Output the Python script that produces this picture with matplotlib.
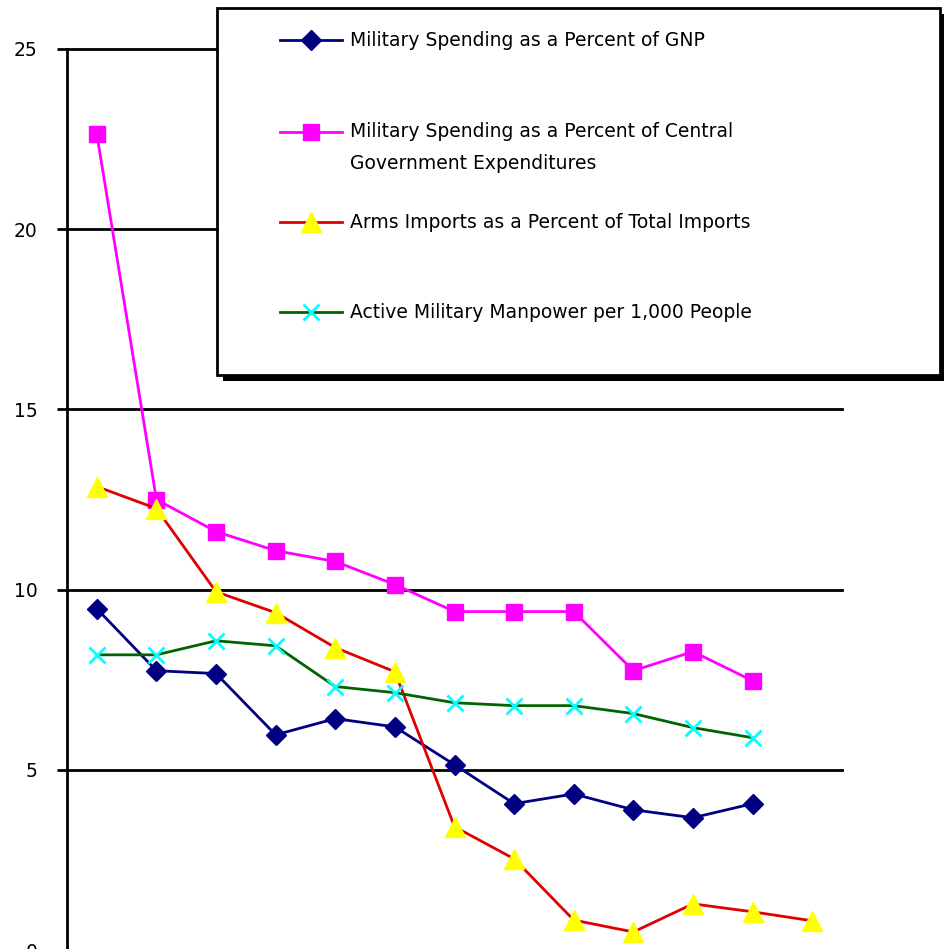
import numpy as np
import matplotlib.pyplot as plt
from matplotlib.lines import Line2D
from matplotlib.patches import Rectangle

# values (13 periods, x-axis labels cut off)
periods = np.arange(1, 14)
gnp_pct = [9.47, 7.75, 7.67, 5.97, 6.42, 6.19, 5.14, 4.06, 4.33, 3.89, 3.67, 4.06]
cge_pct = [22.64, 12.5, 11.61, 11.08, 10.78, 10.14, 9.39, 9.39, 9.39, 7.75, 8.28, 7.47]
arms_pct = [12.86, 12.25, 9.94, 9.36, 8.39, 7.72, 3.42, 2.53, 0.83, 0.5, 1.28, 1.06, 0.81]
manpower = [8.19, 8.19, 8.58, 8.44, 7.31, 7.14, 6.86, 6.78, 6.78, 6.56, 6.17, 5.89]

labels = ["Military Spending as a Percent of GNP",
          "Military Spending as a Percent of Central\nGovernment Expenditures",
          "Arms Imports as a Percent of Total Imports",
          "Active Military Manpower per 1,000 People"]

W, H = 944, 949
fig = plt.figure(figsize=(W / 100, H / 100), dpi=100)
ax = fig.add_axes([67 / W, -1 / H, (842 - 67) / W, 901 / H])

styles = [
    dict(color="#000080", marker="D", ms=10, mfc="#000080", mec="#000080"),
    dict(color="#ff00ff", marker="s", ms=11, mfc="#ff00ff", mec="#ff00ff"),
    dict(color="#e00000", marker="^", ms=14, mfc="#ffff00", mec="#ffff00"),
    dict(color="#006400", marker="x", ms=12, mfc="#00ffff", mec="#00ffff", mew=2),
]
series = [gnp_pct, cge_pct, arms_pct, manpower]
for vals, st in zip(series, styles):
    ax.plot(periods[:len(vals)], vals, lw=2, zorder=3, **st)

ax.set_xlim(0.5, 13.5)
ax.set_ylim(0, 25)
ax.set_yticks([0, 5, 10, 15, 20, 25])
ax.set_xticks([])
ax.grid(axis="y", color="black", lw=2)
for gl in ax.get_ygridlines():
    gl.set_clip_on(False)
ax.set_axisbelow(True)
for s in ["top", "right", "bottom"]:
    ax.spines[s].set_visible(False)
ax.spines["left"].set_linewidth(2)
ax.tick_params(axis="y", length=7, width=2, pad=14, labelsize=13.5)

# legend box with shadow, drawn in figure pixels
def fx(x):
    return x / W

def fy(y):
    return 1 - y / H

fig.patches.append(Rectangle((fx(223), fy(381)), fx(723), 367 / H, transform=fig.transFigure,
                             facecolor="black", edgecolor="none", zorder=5))
fig.patches.append(Rectangle((fx(217), fy(375)), fx(723), 367 / H, transform=fig.transFigure,
                             facecolor="white", edgecolor="black", lw=2, zorder=6))
rows = [40, 132, 222, 312]
for lab, st, yy in zip(labels, styles, rows):
    fig.lines.append(Line2D([fx(280), fx(342)], [fy(yy), fy(yy)], transform=fig.transFigure,
                            color=st["color"], lw=2, zorder=7))
    fig.lines.append(Line2D([fx(311)], [fy(yy)], transform=fig.transFigure, ls="none",
                            marker=st["marker"], ms=st["ms"], mfc=st["mfc"], mec=st["mec"],
                            mew=st.get("mew", 1), zorder=8))
    if "\n" in lab:
        fig.text(fx(350), fy(yy - 10), lab, va="top", ha="left", fontsize=13.5,
                 linespacing=1.85, zorder=9, transform=fig.transFigure)
    else:
        fig.text(fx(350), fy(yy), lab, va="center", ha="left", fontsize=13.5,
                 zorder=9, transform=fig.transFigure)

fig.savefig("out.png", dpi=100)
